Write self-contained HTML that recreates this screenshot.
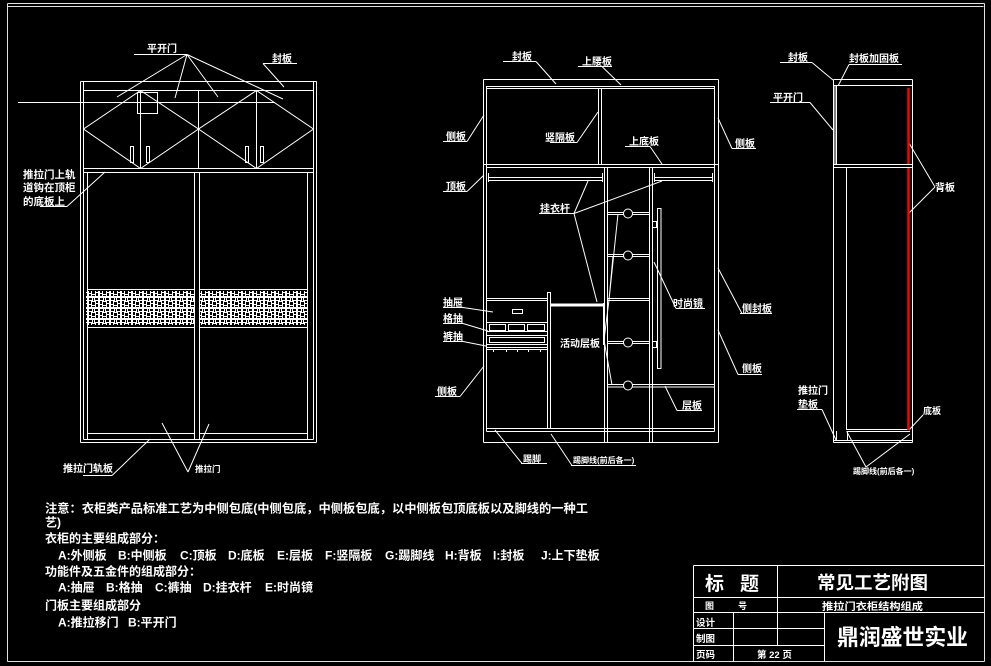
<!DOCTYPE html>
<html><head><meta charset="utf-8"><title>常见工艺附图</title>
<style>
html,body{margin:0;padding:0;background:#000;}
svg{display:block}
text{font-family:"Liberation Sans","Noto Sans CJK SC",sans-serif;fill:#fff;font-weight:bold}
</style></head><body>
<svg width="991" height="666" viewBox="0 0 991 666" xmlns="http://www.w3.org/2000/svg">
<defs>
<pattern id="pt" width="11" height="11" patternUnits="userSpaceOnUse">
<rect width="11" height="11" fill="#fff"/>
<rect x="1" y="1" width="3" height="2" fill="#000"/>
<rect x="5" y="1" width="1" height="3" fill="#000"/>
<rect x="7" y="1" width="3" height="2" fill="#000"/>
<rect x="1" y="4" width="2" height="3" fill="#000"/>
<rect x="4" y="5" width="3" height="3" fill="#000"/>
<rect x="8" y="4" width="2" height="2" fill="#000"/>
<rect x="8" y="7" width="2" height="3" fill="#000"/>
<rect x="1" y="8" width="2" height="2" fill="#000"/>
<rect x="4" y="9" width="3" height="1" fill="#000"/>
</pattern>
</defs>
<rect width="991" height="666" fill="#000"/>

<!-- Border -->
<g stroke="#e0e0e0" stroke-width="1" fill="none">
<path d="M7.5 3.5H984.5 M7.5 6.5H983.5 M7.5 3.5V661.5 M984.5 3.5V661.5 M7.5 661.5H984.5"/>
</g>

<!-- LEFT DRAWING -->
<g stroke="#fff" stroke-width="1" fill="none">
<path d="M80.5 81.5H316.5 M83.5 90.5H313.5 M80.5 81.5V442.5 M83.5 81.5V439.5 M316.5 81.5V442.5 M313.5 81.5V439.5 M80.5 442.5H316.5 M83.5 439.5H313.5"/>
<path d="M83.5 168.5H313.5 M83.5 172.5H313.5"/>
<path d="M140.5 90.5V168.5 M198.5 90.5V168.5 M256.5 90.5V168.5"/>
<path d="M83.5 129L140.5 90.5L198.5 129L140.5 168.5Z M198.5 129L256.5 90.5L313.5 129L256.5 168.5Z"/>
<path d="M18 102.5H275"/>
<rect x="137.5" y="92.5" width="20" height="21"/>
<rect x="130.5" y="146.5" width="3" height="16"/>
<rect x="146.5" y="146.5" width="3" height="16"/>
<rect x="245.5" y="146.5" width="3" height="16"/>
<rect x="260.5" y="146.5" width="3" height="16"/>
<path d="M87.5 172.5V439.5 M194.5 172.5V439.5 M199.5 172.5V439.5 M307.5 172.5V439.5"/>
<path d="M87.5 433.5H194.5 M199.5 433.5H307.5"/>
<path d="M87.5 289.5H194.5 M199.5 289.5H307.5 M87.5 327.5H194.5 M199.5 327.5H307.5"/>
<!-- leaders -->
<path d="M134 54.5H187 M187 54.5L117 97 M187 54.5L175 98 M187 54.5L218 97 M187 54.5L283 99"/>
<path d="M263 63.5H297 M263 63.5L284 87"/>
<path d="M40 206.5H67 M67 206.5L105 172"/>
<path d="M83 475.5H112 M112 475.5L150 439"/>
<path d="M188 472L162 423 M188 472L209 424"/>
</g>
<rect x="86" y="291" width="108" height="34" fill="url(#pt)"/>
<rect x="200" y="291" width="107" height="34" fill="url(#pt)"/>
<text x="147" y="52" font-size="10">平开门</text>
<text x="272" y="62" font-size="10">封板</text>
<text x="23" y="178" font-size="10.5">推拉门上轨</text>
<text x="23" y="191" font-size="10.5">道钩在顶柜</text>
<text x="23" y="205" font-size="10.5">的底板上</text>
<text x="63" y="472" font-size="10">推拉门轨板</text>
<text x="195" y="472" font-size="8.5">推拉门</text>

<!-- MIDDLE DRAWING -->
<g stroke="#fff" stroke-width="1" fill="none">
<path d="M483.5 79.5V442.5 M486.5 86V431.5 M714.5 86V431.5 M718.5 79.5V442.5"/>
<path d="M483.5 79.5H718.5 M486.5 86.5H714.5 M486.5 88.5H714.5"/>
<path d="M598.5 88.5V164 M601.5 88.5V164"/>
<path d="M483.5 164.5H718.5 M486.5 167.5H714.5"/>
<path d="M604.5 167.5V442.5 M607.5 167.5V442.5 M649.5 167.5V442.5 M652.5 167.5V442.5"/>
<path d="M488 177.5H603 M488 180.5H603 M654 177.5H713 M654 180.5H713"/>
<path d="M488.5 173V182 M602.5 173V182 M654.5 173V182 M712.5 173V182"/>
<path d="M607.5 212.5H649.5 M607.5 214.5H649.5 M607.5 254.5H649.5 M607.5 256.5H649.5 M607.5 298.5H649.5 M607.5 300.5H649.5 M607.5 341.5H649.5 M607.5 343.5H649.5 M607.5 384.5H714.5 M607.5 387H714.5"/>
<rect x="657.5" y="208.5" width="3.5" height="160"/>
<rect x="652.5" y="221.5" width="4" height="6"/>
<rect x="652.5" y="341.5" width="4" height="6"/>
<path d="M486.5 428.5H714.5 M486.5 431.5H714.5 M483.5 442.5H718.5"/>
<path d="M486.5 298.5H547.5 M486.5 300.5H547.5"/>
<path d="M547.5 292V428 M550.5 292V428 M547.5 292.5H550.5"/>
<path d="M603.5 303V345"/>
<rect x="512.5" y="309.5" width="10" height="4"/>
<path d="M486.5 322.5H547.5 M486.5 331.5H547.5"/>
<rect x="489.5" y="324.5" width="16" height="6"/>
<rect x="508.5" y="324.5" width="16" height="6"/>
<rect x="527.5" y="324.5" width="17" height="6"/>
<path d="M486.5 335.5H547.5 M486.5 344.5H547.5"/>
<rect x="489.5" y="337.5" width="55" height="5"/>
<path d="M486.5 347.5H547.5 M486.5 349.5H547.5 M493.5 349V352 M506.5 349V352 M517.5 349V352 M528.5 349V352 M540.5 349V352"/>
<!-- leaders -->
<path d="M503 61.5H536 M536 61.5L556 84"/>
<path d="M578 66.5H612 M602 66.5L621 85"/>
<path d="M443 141.5H467 M467 141.5L484 115"/>
<path d="M550 142.5H577 M577 142.5L598 112"/>
<path d="M625 146.5H650 M650 146.5L662 164"/>
<path d="M732 148.5H756 M732 148.5L718 118"/>
<path d="M443 191.5H467 M467 191.5L484 175"/>
<path d="M539 213.5H574 M574 213.5L588 181 M574 213.5L662 181 M574 213.5L597 302"/>
<path d="M676 308.5H705 M676 308.5L654 262"/>
<path d="M740 313.5H772 M742 313.5L718 268"/>
<path d="M738 374.5H762 M738 374.5L718 330"/>
<path d="M677 410.5H702 M677 410.5L665 386"/>
<path d="M443 307.5H463 M463 307.5L493 312"/>
<path d="M443 323.5H463 M463 323.5L488 331"/>
<path d="M443 341.5H463 M463 341.5L486 346"/>
<path d="M435 396.5H460 M460 396.5L484 366"/>
<path d="M521 463.5H547 M522 463.5L495 430"/>
<path d="M571 465.5H636 M572 465.5L551 434"/>
<path d="M604 340L609 300 M604 340L612 385 M609 300L618 214 M609 300L613 256"/>
</g>
<rect x="551" y="303.5" width="53" height="3" fill="#fff"/>
<g fill="#000" stroke="#fff" stroke-width="1">
<circle cx="628" cy="213.5" r="4.5"/>
<circle cx="628" cy="255.5" r="4.5"/>
<circle cx="628" cy="342.5" r="4.5"/>
<circle cx="628" cy="385.5" r="4.5"/>
</g>
<text x="512" y="60" font-size="10">封板</text>
<text x="582" y="65" font-size="10">上腰板</text>
<text x="446" y="140" font-size="10">侧板</text>
<text x="545" y="141" font-size="10">竖隔板</text>
<text x="629" y="145" font-size="10">上底板</text>
<text x="735" y="147" font-size="10">侧板</text>
<text x="446" y="190" font-size="10">顶板</text>
<text x="540" y="212" font-size="10">挂衣杆</text>
<text x="673" y="307" font-size="10">时尚镜</text>
<text x="742" y="312" font-size="10">侧封板</text>
<text x="742" y="372" font-size="10">侧板</text>
<text x="682" y="409" font-size="10">层板</text>
<text x="443" y="306" font-size="10">抽屉</text>
<text x="443" y="322" font-size="10">格抽</text>
<text x="443" y="340" font-size="10">裤抽</text>
<text x="437" y="395" font-size="10">侧板</text>
<text x="523" y="462" font-size="9">踢脚</text>
<text x="573" y="463" font-size="8">踢脚线(前后各一)</text>
<text x="560" y="347" font-size="10">活动层板</text>

<!-- RIGHT DRAWING -->
<g stroke="#fff" stroke-width="1" fill="none">
<path d="M833.5 79.5V442.5 M912.5 79.5V442.5 M833.5 79.5H912.5 M833.5 85.5H912.5"/>
<path d="M836.5 85.5V164.5 M835 85.5V164.5"/>
<path d="M833.5 164.5H912.5 M833.5 167.5H912.5"/>
<path d="M846.5 167.5V430 M846.5 429.5H910 M846.5 431.5H910"/>
<path d="M833.5 440.5H912.5 M833.5 442.5H912.5 M836.5 431V440 M847.5 431V440"/>
<path d="M780 62.5H812 M812 62.5L833 80"/>
<path d="M849 64.5H902 M849 64.5L838 86"/>
<path d="M770 102.5H810 M810 102.5L833 130"/>
<path d="M935 187L909 143 M935 187L909 213"/>
<path d="M797 409.5H822 M822 409.5L836 440"/>
<path d="M923 415L909 430"/>
<path d="M866 467L847 432 M866 467L910 434"/>
</g>
<path d="M908.5 88V164 M908.5 168V430" stroke="#ff0000" stroke-width="2.5" fill="none"/>
<text x="788" y="61" font-size="10">封板</text>
<text x="849" y="62" font-size="10">封板加固板</text>
<text x="773" y="101" font-size="10">平开门</text>
<text x="935" y="191" font-size="10">背板</text>
<text x="798" y="394" font-size="10">推拉门</text>
<text x="798" y="408" font-size="10">垫板</text>
<text x="923" y="414" font-size="9">底板</text>
<text x="853" y="474" font-size="8">踢脚线(前后各一)</text>

<!-- NOTES -->
<text x="45" y="512.5" font-size="12" textLength="543" lengthAdjust="spacingAndGlyphs">注意：衣柜类产品标准工艺为中侧包底(中侧包底，中侧板包底，以中侧板包顶底板以及脚线的一种工</text>
<text x="45" y="526.5" font-size="12">艺)</text>
<text x="45" y="542.5" font-size="12">衣柜的主要组成部分：</text>
<g font-size="12">
<text x="58" y="559.5">A:外侧板</text>
<text x="118" y="559.5">B:中侧板</text>
<text x="180" y="559.5">C:顶板</text>
<text x="228" y="559.5">D:底板</text>
<text x="277" y="559.5">E:层板</text>
<text x="325" y="559.5">F:竖隔板</text>
<text x="385" y="559.5">G:踢脚线</text>
<text x="445" y="559.5">H:背板</text>
<text x="493" y="559.5">I:封板</text>
<text x="541" y="559.5">J:上下垫板</text>
</g>
<text x="45" y="575.5" font-size="12">功能件及五金件的组成部分：</text>
<g font-size="12">
<text x="58" y="591.5">A:抽屉</text>
<text x="106" y="591.5">B:格抽</text>
<text x="155" y="591.5">C:裤抽</text>
<text x="203" y="591.5">D:挂衣杆</text>
<text x="265" y="591.5">E:时尚镜</text>
</g>
<text x="45" y="609.5" font-size="12">门板主要组成部分</text>
<text x="58" y="626.5" font-size="12">A:推拉移门</text>
<text x="128" y="626.5" font-size="12">B:平开门</text>

<!-- TITLE BLOCK -->
<g stroke="#fff" stroke-width="1" fill="none">
<path d="M693.5 565.5H984.5 M693.5 565.5V661.5 M693.5 597.5H984.5 M693.5 612.5H984.5 M693.5 628.5H824.5 M693.5 645.5H824.5"/>
<path d="M777.5 565.5V645.5 M733.5 612.5V661.5 M824.5 612.5V661.5"/>
</g>
<text x="705" y="590" font-size="19">标</text>
<text x="740" y="590" font-size="19">题</text>
<text x="817" y="589" font-size="18" textLength="111" lengthAdjust="spacingAndGlyphs">常见工艺附图</text>
<text x="705" y="609" font-size="9">图</text>
<text x="738" y="609" font-size="9">号</text>
<text x="822" y="610" font-size="10" textLength="101" lengthAdjust="spacingAndGlyphs">推拉门衣柜结构组成</text>
<text x="696" y="626" font-size="9.5">设计</text>
<text x="696" y="642" font-size="9.5">制图</text>
<text x="696" y="658" font-size="9.5">页码</text>
<text x="757" y="658" font-size="9.5">第 22 页</text>
<text x="837" y="645" font-size="22" textLength="131" lengthAdjust="spacingAndGlyphs">鼎润盛世实业</text>
</svg>
</body></html>
